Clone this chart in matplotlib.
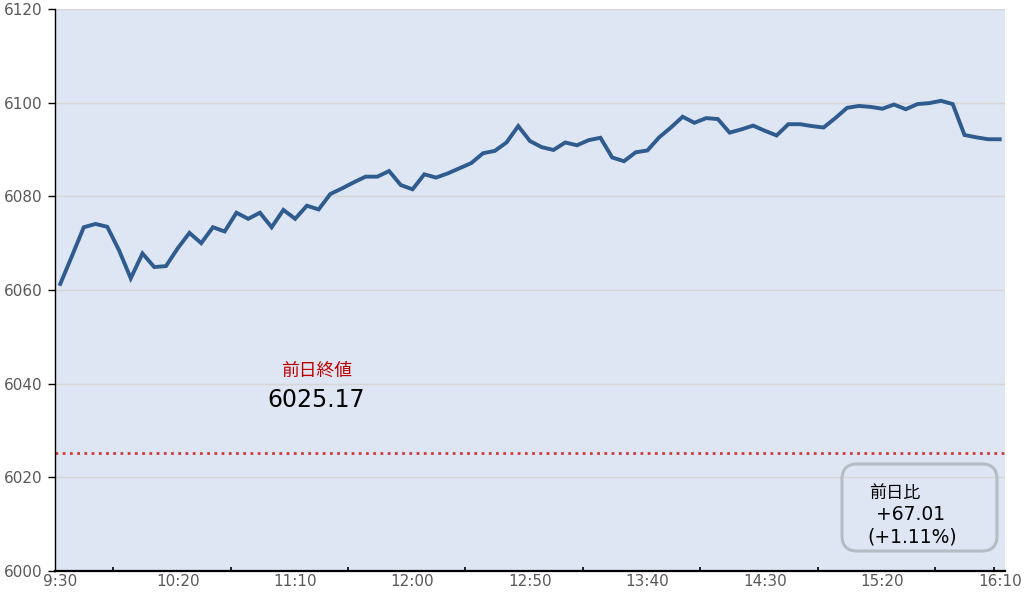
import matplotlib
matplotlib.use("Agg")
import matplotlib.pyplot as plt
from matplotlib.patches import FancyBboxPatch

plt.rcParams['font.family'] = ['DejaVu Sans', 'Noto Sans CJK JP']

# ---- data ----
values = [
    6061.3, 6067.3, 6073.4, 6074.1, 6073.5, 6068.5, 6062.5, 6067.8, 6064.9, 6065.1,
    6068.9, 6072.2, 6070.0, 6073.4, 6072.5, 6076.5, 6075.2, 6076.5, 6073.4, 6077.1,
    6075.2, 6078.0, 6077.2, 6080.5, 6081.7, 6083.0, 6084.2, 6084.2, 6085.4, 6082.4,
    6081.5, 6084.7, 6084.0, 6084.9, 6086.0, 6087.1, 6089.2, 6089.7, 6091.5, 6095.0,
    6091.8, 6090.5, 6089.9, 6091.5, 6090.9, 6092.0, 6092.5, 6088.3, 6087.5, 6089.4,
    6089.8, 6092.6, 6094.7, 6097.0, 6095.7, 6096.7, 6096.5, 6093.6, 6094.3, 6095.1,
    6094.0, 6093.0, 6095.4, 6095.4, 6095.0, 6094.7, 6096.7, 6098.9, 6099.3, 6099.1,
    6098.7, 6099.6, 6098.6, 6099.7, 6099.9, 6100.4, 6099.7, 6093.1, 6092.6, 6092.2,
    6092.18,
]
tick_positions = [0, 10, 20, 30, 40, 50, 60, 70, 80]
tick_labels = ["9:30", "10:20", "11:10", "12:00", "12:50", "13:40", "14:30", "15:20", "16:10"]
tickmark_positions = [4.5, 14.5, 24.5, 34.5, 44.5, 54.5, 64.5, 74.5, 79.5]
y_ticks = [6000, 6020, 6040, 6060, 6080, 6100, 6120]
prev_close = 6025.17
prev_close_label = "前日終値"
diff_title = "前日比"
diff_value = "+67.01"
diff_pct = "(+1.11%)"

# ---- figure ----
fig = plt.figure(figsize=(10.30, 5.95), dpi=100)
ax = fig.add_axes([55 / 1030, 1 - 571 / 595, 950 / 1030, 562 / 595])
ax.set_facecolor('#dde6f2')

x = list(range(len(values)))
ax.plot(x, values, color='#2f5b8f', lw=2.8, solid_joinstyle='miter', zorder=3)
ax.axhline(prev_close, color='#d23a3a', lw=2.0, linestyle=(0, (1, 1.6)), zorder=2)

ax.set_xlim(-0.45, 80.45)
ax.set_ylim(6000, 6120)

ax.set_yticks(y_ticks)
ax.tick_params(axis='y', direction='out', length=5, width=1, color='black',
               labelsize=11, labelcolor='#595959', pad=4)
ax.grid(axis='y', color='#d6d6d6', lw=1)
ax.set_axisbelow(True)

ax.set_xticks(tick_positions)
ax.set_xticklabels(tick_labels)
ax.tick_params(axis='x', which='major', length=0, labelsize=11, labelcolor='#595959', pad=2)
ax.set_xticks(tickmark_positions, minor=True)
ax.tick_params(axis='x', which='minor', direction='in', length=3, width=1.2, color='black')

for s in ['top', 'right']:
    ax.spines[s].set_visible(False)
ax.spines['left'].set_color('black')
ax.spines['bottom'].set_color('black')
ax.spines['bottom'].set_linewidth(1.6)
ax.spines['left'].set_linewidth(1.0)

# previous close annotation
ax.text(0.275, 0.356, prev_close_label, transform=ax.transAxes, ha='center', va='center',
        fontsize=12.8, color='#c00000')
ax.text(0.275, 0.304, f"{prev_close:.2f}", transform=ax.transAxes, ha='center', va='center',
        fontsize=17, color='black')

# difference box
x0, x1 = (842 - 55) / 950, (997 - 55) / 950
y0, y1 = (571 - 551) / 562, (571 - 464) / 562
box = FancyBboxPatch((x0, y0), x1 - x0, y1 - y0,
                     boxstyle="round,pad=0,rounding_size=0.016",
                     mutation_aspect=950 / 562,
                     transform=ax.transAxes, facecolor='none',
                     edgecolor='#b4bcc4', lw=2.2, zorder=4)
ax.add_patch(box)
ax.text((869 - 55) / 950, (571 - 493) / 562, diff_title, transform=ax.transAxes,
        ha='left', va='center', fontsize=12.3, color='black')
ax.text((911 - 55) / 950, (571 - 514) / 562, diff_value, transform=ax.transAxes,
        ha='center', va='center', fontsize=13.5, color='black')
ax.text((912 - 55) / 950, (571 - 537) / 562, diff_pct, transform=ax.transAxes,
        ha='center', va='center', fontsize=13.5, color='black')

fig.savefig('out.png', dpi=100)
